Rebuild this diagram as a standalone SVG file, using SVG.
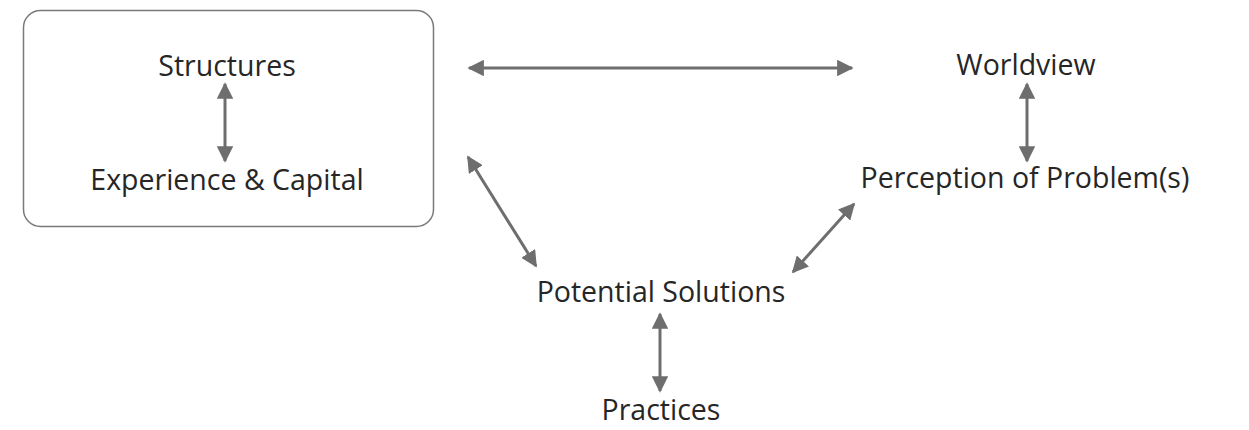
<svg xmlns="http://www.w3.org/2000/svg" width="1249" height="430" viewBox="0 0 1249 430">
<style>
.t{font-family:"Open Sans","Noto Sans",sans-serif;font-size:28.5px;fill:#262626;text-anchor:middle}
.c{stroke:#6e6e6e;stroke-width:3;fill:none;marker-start:url(#h);marker-end:url(#h)}
</style>
<defs>
<marker id="h" viewBox="0 0 10 10" refX="9" refY="5" markerWidth="5.5" markerHeight="5.5" orient="auto-start-reverse" markerUnits="strokeWidth">
<path d="M0,0 L10,5 L0,10 z" fill="#6e6e6e"/>
</marker>
</defs>
<rect width="1249" height="430" fill="#fff"/>
<g id="box">
<rect x="23.5" y="10.5" width="410" height="216" rx="17" fill="#fff" stroke="#7a7a7a" stroke-width="1.5"/>
</g>
<g id="structures"><text class="t" x="227" y="76">Structures</text></g>
<g id="experience"><text class="t" x="227" y="190">Experience &amp; Capital</text></g>
<g id="worldview"><text class="t" x="1026" y="75">Worldview</text></g>
<g id="perception"><text class="t" x="1025" y="188">Perception of Problem(s)</text></g>
<g id="solutions"><text class="t" x="661" y="302">Potential Solutions</text></g>
<g id="practices"><text class="t" x="661" y="420">Practices</text></g>
<g id="connectors">
<line class="c" x1="225" y1="84" x2="225" y2="161"/>
<line class="c" x1="1027" y1="84" x2="1027" y2="161"/>
<line class="c" x1="660" y1="314" x2="660" y2="391"/>
<line class="c" x1="469" y1="68" x2="852" y2="68"/>
<line class="c" x1="468" y1="157" x2="536" y2="266"/>
<line class="c" x1="854" y1="204" x2="793" y2="272"/>
</g>
</svg>
